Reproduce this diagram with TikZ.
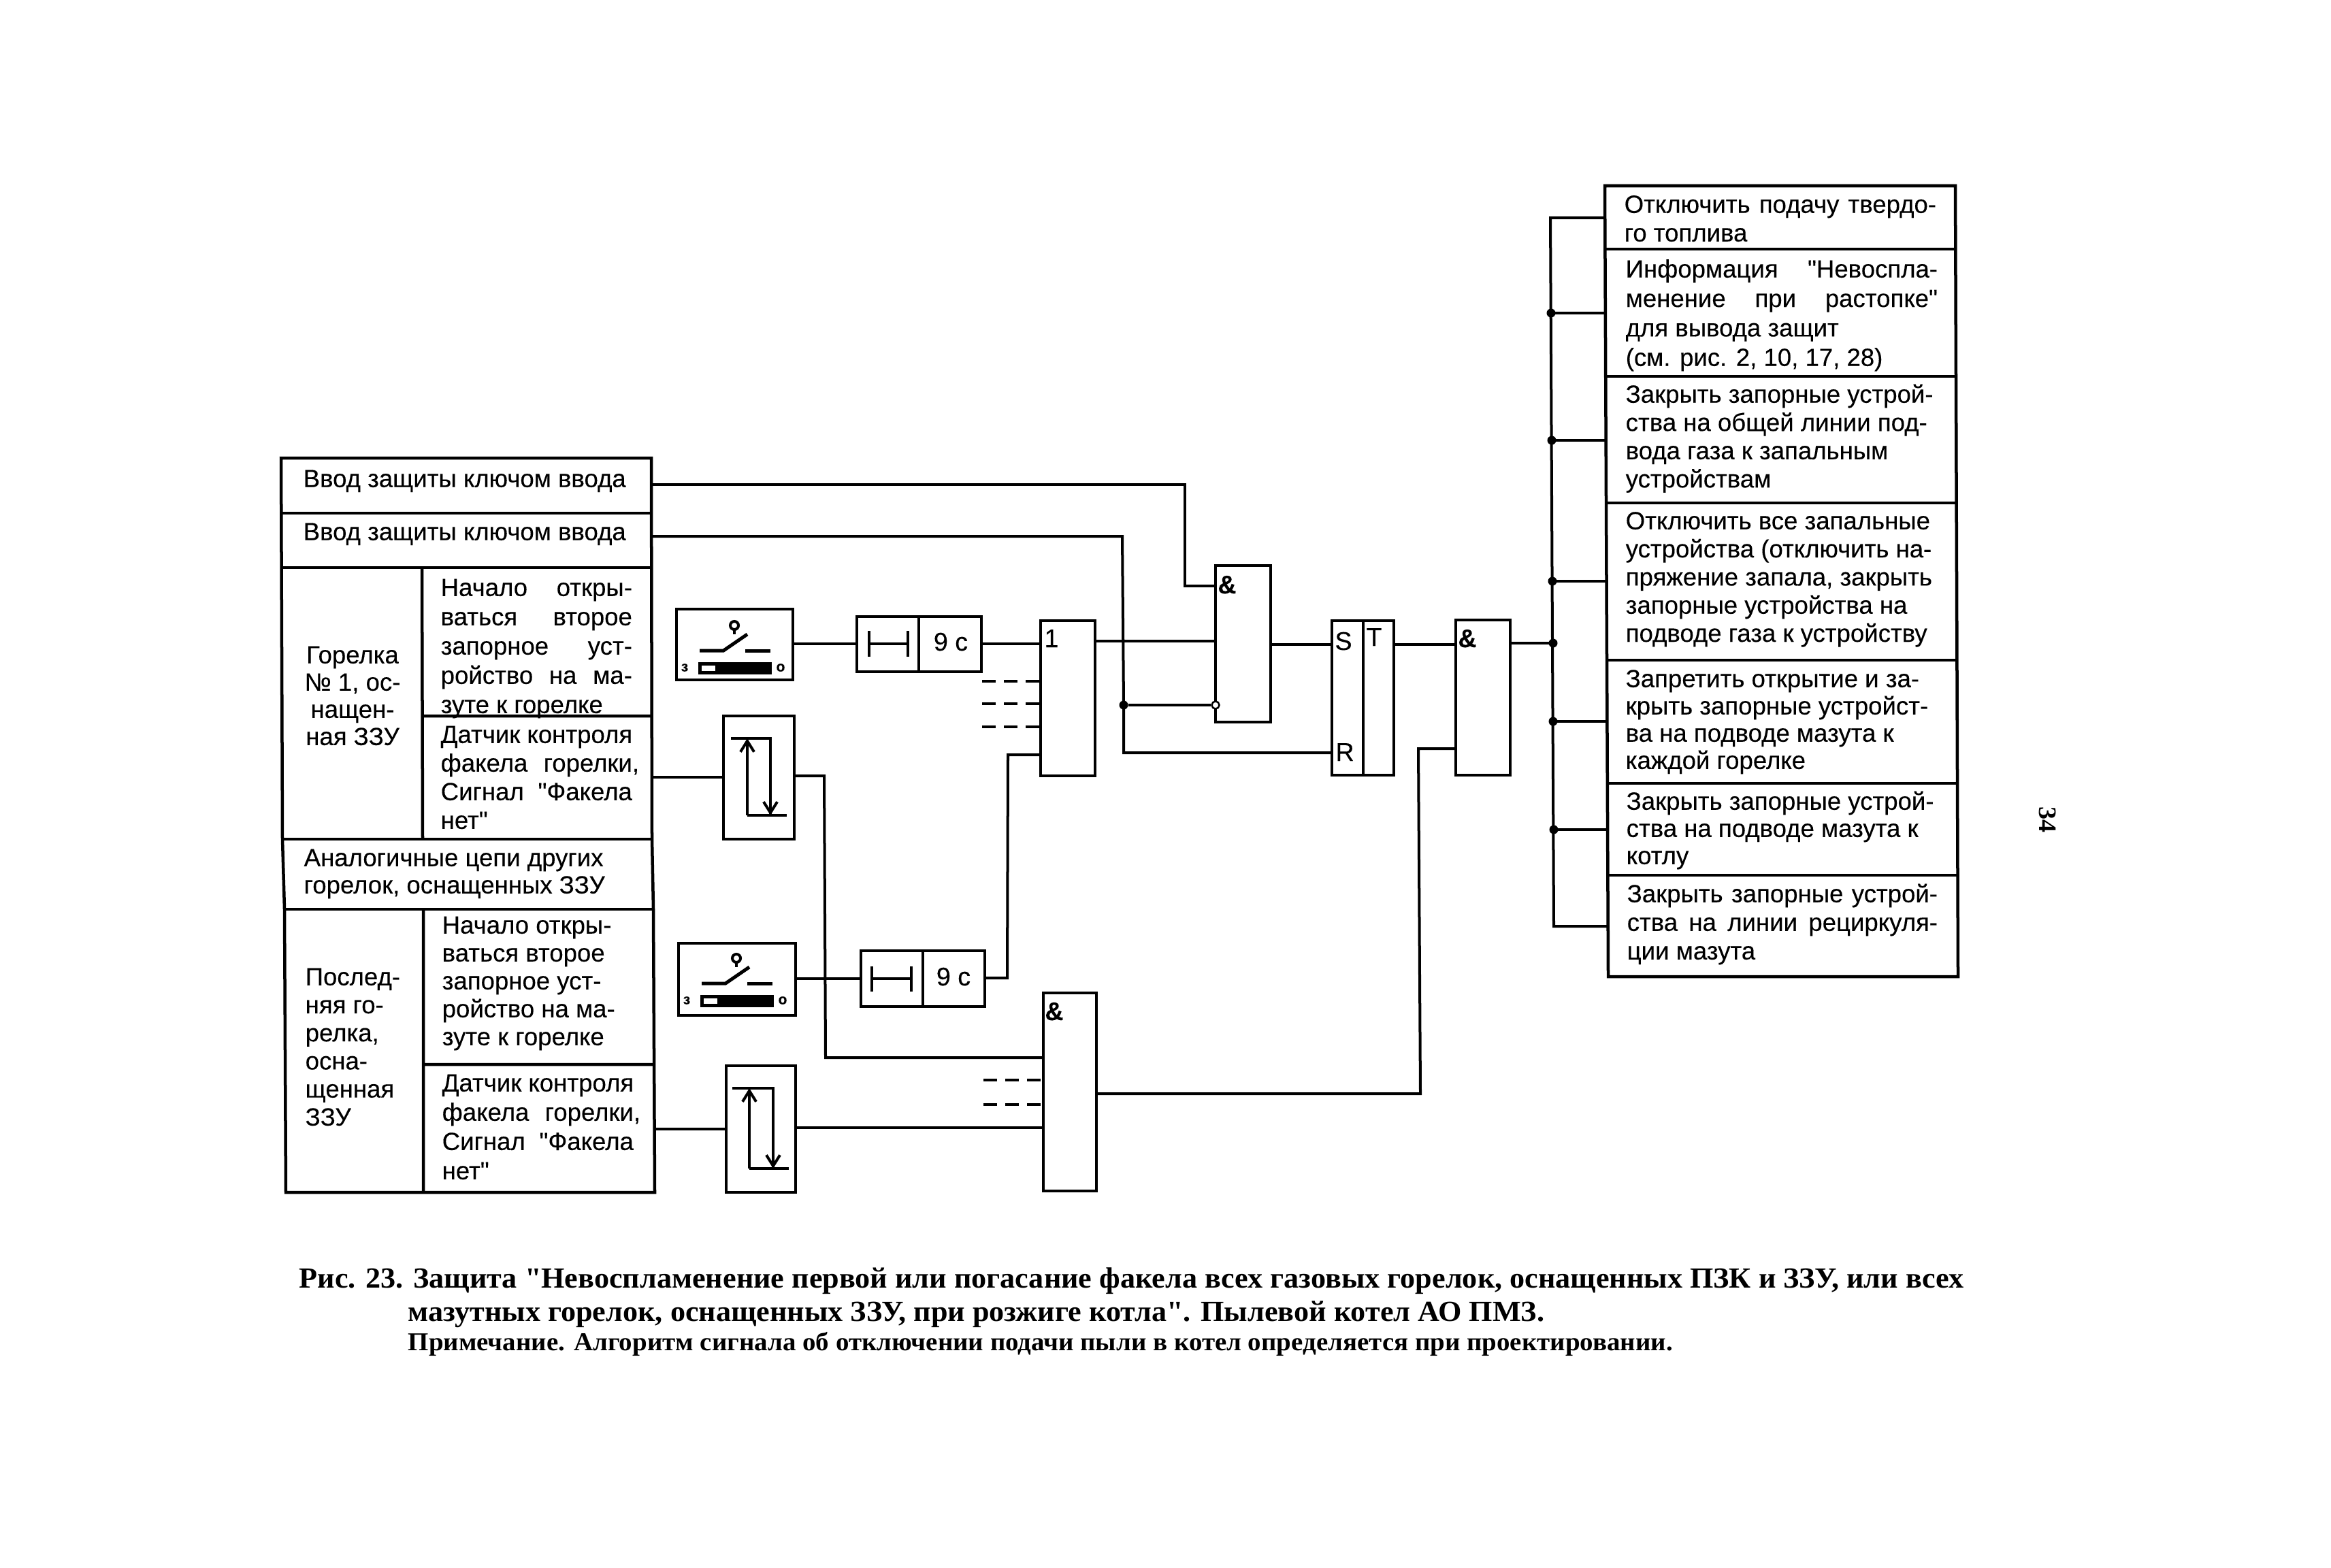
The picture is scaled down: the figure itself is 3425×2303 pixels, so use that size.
\documentclass[tikz,border=0pt]{standalone}
\usepackage{fontspec}
\newfontfamily\sansf[FakeBold=0.2]{Liberation Sans}
\newfontfamily\capfont[FakeStretch=1.03]{Liberation Serif}
\usetikzlibrary{arrows.meta,calc}
\newcommand\cellfont[1]{\sansf\fontsize{10.4pt}{\fpeval{#1*0.28453}pt}\selectfont}
\newcommand\firstln{\rule{0pt}{8pt}}
\newcommand\jl[2]{\makebox[#1cm][s]{#2}}
% block from corners: name x1 y1 x2 y2
\newcommand\blk[6][]{\node[blk,#1,anchor=north west,minimum width=\fpeval{(#5-#3)/100}cm,minimum height=\fpeval{(#6-#4)/100}cm] (#2) at (#3,#4) {};}
% text cell: name x baseline spacing lines
\newcommand\tcell[6][left]{\node[anchor=north west,inner sep=0pt,align=#1,font=\cellfont{#5}] (#2) at (#3,\fpeval{#4-28.1}) {\firstln #6};}
\newcommand\lab[4]{\node[anchor=base,inner sep=0pt,font=\sansf\fontsize{10.7pt}{12pt}\selectfont] (#1) at (#2,#3) {#4};}
\newcommand\senssym[6]{%
  \draw[sym] (#1,#5) -- (#3,#5) -- (#3,#6);
  \draw[sym] (#2,#6) -- (#4,#6);
  \draw[sym,-{Straight Barb[length=0.16cm,width=0.2cm,line width=0.04cm]}] (#2,#6) -- (#2,#5);
  \draw[sym,-{Straight Barb[length=0.16cm,width=0.2cm,line width=0.04cm]}] (#3,#5) -- (#3,#6);
}
\tikzset{
  blk/.style={draw=black,line width=0.045cm,fill=white,inner sep=0pt,outer sep=0pt},
  grid/.style={draw=black,line width=0.045cm,line join=miter},
  wire/.style={draw=black,line width=0.04cm},
  dashw/.style={draw=black,line width=0.04cm,dash pattern=on 0.2cm off 0.12cm},
  sym/.style={draw=black,line width=0.04cm},
  dot/.style={circle,fill=black,inner sep=0pt,minimum size=0.13cm},
  odot/.style={circle,draw=black,fill=white,line width=0.025cm,inner sep=0pt,minimum size=0.11cm},
  swsym/.pic={
    \draw[sym] (1079,919) circle (0.06cm);
    \draw[sym] (1079,925) -- (1079,932);
    \draw[sym,line width=0.05cm] (1028,956) -- (1063,956) -- (1098,932);
    \draw[sym,line width=0.05cm] (1095,956) -- (1132,956);
    \draw[sym,fill=black] (1028,975) rectangle (1132,989);
    \draw[sym,line width=0.025cm,fill=white] (1030,977) rectangle (1052,987);
    \node[inner sep=0pt,font=\sffamily\bfseries\fontsize{6pt}{6pt}\selectfont] at (1006,981) {\sansf з};
    \node[inner sep=0pt,font=\sffamily\bfseries\fontsize{6pt}{6pt}\selectfont] at (1147,981) {\sansf о};
  },
}
\begin{document}
\begin{tikzpicture}[x=0.01cm,y=-0.01cm]
\path[use as bounding box,fill=white] (0,0) rectangle (3425,2303);
% left table: cells are named, the ruled grid follows the page's slight skew
\blk[draw=none]{k1}{413}{673}{957}{754}
\blk[draw=none]{k2}{414}{754}{957}{834}
\blk[draw=none]{bA}{414}{834}{620}{1233}
\blk[draw=none]{bAa}{620}{834}{958}{1052}
\blk[draw=none]{bAb}{620}{1052}{959}{1233}
\blk[draw=none]{an}{416}{1233}{959}{1336}
\blk[draw=none]{bB}{419}{1336}{622}{1752}
\blk[draw=none]{bBa}{622}{1336}{960}{1564}
\blk[draw=none]{bBb}{622}{1564}{961}{1752}
\draw[grid] (413,673) -- (957,673) -- (958,1233) -- (960,1336) -- (962,1752) -- (420,1752) -- (418,1336) -- (415,1233) -- cycle;
\draw[grid] (413.5,754) -- (957,754) (414,834) -- (957.5,834) (415,1233) -- (958,1233) (418,1336) -- (960,1336);
\draw[grid] (620,834) -- (621,1233) (622,1336) -- (622,1752) (620,1052) -- (958,1052) (622,1564) -- (961,1564);
\tcell{tk1}{445}{715}{42}{Ввод защиты ключом ввода}
\tcell{tk2}{445}{793}{42}{Ввод защиты ключом ввода}
\node[anchor=north,inner sep=0pt,align=center,font=\cellfont{40}] (tbA) at (518,\fpeval{974-28.1}) {\firstln Горелка\\№ 1, ос-\\нащен-\\ная ЗЗУ};
\tcell{tbAa}{647}{875}{43}{\jl{2.81}{Начало откры-}\\\jl{2.81}{ваться второе}\\\jl{2.81}{запорное уст-}\\\jl{2.81}{ройство на ма-}\\зуте к горелке}
\tcell{tbAb}{647}{1091}{42}{Датчик контроля\\\jl{2.81}{факела горелки\rlap{,}}\\\jl{2.81}{Сигнал "Факела}\\нет"}
\tcell{tan}{446}{1272}{40}{Аналогичные цепи других\\горелок, оснащенных ЗЗУ}
\tcell{tbB}{448}{1447}{41.2}{Послед-\\няя го-\\релка,\\осна-\\щенная\\ЗЗУ}
\tcell{tbBa}{649}{1371}{41}{Начало откры-\\ваться второе\\запорное уст-\\ройство на ма-\\зуте к горелке}
\tcell{tbBb}{649}{1603}{43}{Датчик контроля\\\jl{2.81}{факела горелки\rlap{,}}\\\jl{2.81}{Сигнал "Факела}\\нет"}
% right table
\blk[draw=none]{r1}{2358}{273}{2873}{366}
\blk[draw=none]{r2}{2358}{366}{2873}{553}
\blk[draw=none]{r3}{2358}{553}{2873}{739}
\blk[draw=none]{r4}{2359}{739}{2874}{970}
\blk[draw=none]{r5}{2360}{970}{2875}{1151}
\blk[draw=none]{r6}{2361}{1151}{2876}{1286}
\blk[draw=none]{r7}{2362}{1286}{2877}{1435}
\draw[grid] (2358,273) -- (2873,273) -- (2877,1435) -- (2363,1435) -- cycle;
\draw[grid] (2358,366) -- (2874,366) (2359,553) -- (2874,553) (2359.5,739) -- (2875,739) (2361,970) -- (2875.5,970) (2361.5,1151) -- (2876,1151) (2362,1286) -- (2876.5,1286);
\tcell{tr1}{2386}{312}{42}{\jl{4.58}{Отключить подачу твердо-}\\го топлива}
\tcell{tr2}{2388}{407}{43.3}{\jl{4.58}{Информация "Невоспла-}\\\jl{4.58}{менение при растопке"}\\для вывода защит\\(см. рис. 2, 10, 17, 28)}
\tcell{tr3}{2388}{591}{41.5}{Закрыть запорные устрой-\\ства на общей линии под-\\вода газа к запальным\\устройствам}
\tcell{tr4}{2388}{777}{41.3}{Отключить все запальные\\устройства (отключить на-\\пряжение запала, закрыть\\запорные устройства на\\подводе газа к устройству}
\tcell{tr5}{2388}{1009}{40}{Запретить открытие и за-\\крыть запорные устройст-\\ва на подводе мазута к\\каждой горелке}
\tcell{tr6}{2389}{1189}{40}{Закрыть запорные устрой-\\ства на подводе мазута к\\котлу}
\tcell{tr7}{2390}{1325}{42}{\jl{4.56}{Закрыть запорные устрой-}\\\jl{4.56}{ства на линии рециркуля-}\\ции мазута}
% switches and timers
\blk{sw1}{994}{895}{1165}{999}
\pic at (0,0) {swsym};
\blk{sw2}{997}{1386}{1169}{1492}
\pic at (3,489) {swsym};
\blk{tm1}{1259}{906}{1350}{987}
\blk{tm1b}{1350}{906}{1442}{987}
\blk{tm2}{1265}{1397}{1356}{1479}
\blk{tm2b}{1356}{1397}{1447}{1479}
\draw[sym] (1277,927) -- (1277,965) (1277,946) -- (1334,946) (1334,927) -- (1334,965);
\draw[sym] (1281,1420) -- (1281,1457) (1281,1438) -- (1339,1438) (1339,1420) -- (1339,1457);
\lab{t9a}{1397}{956}{9 с}
\lab{t9b}{1401}{1448}{9 с}
% sensors
\blk{se1}{1063}{1052}{1167}{1233}
\blk{se2}{1067}{1566}{1169}{1752}
\senssym{1074}{1098}{1132}{1156}{1085}{1198}
\senssym{1076}{1101}{1136}{1159}{1599}{1717}
% gates
\blk{orA}{1529}{912}{1609}{1140}
\blk{anA}{1786}{831}{1867}{1061}
\blk{srS}{1957}{912}{2003}{1139}
\blk{srT}{2003}{912}{2048}{1139}
\blk{anB}{2139}{911}{2219}{1139}
\blk{anC}{1533}{1459}{1611}{1750}
\lab{l1}{1545}{951}{1}
\lab{l2}{1803}{872}{\bfseries\&}
\lab{l3}{2156}{951}{\bfseries\&}
\lab{l4}{1549}{1499}{\bfseries\&}
\lab{l5}{1974}{955}{S}
\lab{l6}{2019}{949}{T}
\lab{l7}{1976}{1118}{R}
% connectors
\coordinate (jA) at (1651,1036);
\node[dot] (dA) at (jA) {};
\draw[wire] (k1.east |- 0,712) -- (1741,712) -- (1741,861) -- (anA.west |- 0,861);
\draw[wire] (k2.east |- 0,788) -- (1649,788) -- (dA.center) -- (1651,1106) -- (srS.west |- 0,1106);
\draw[wire] (sw1.east |- 0,946) -- (tm1.west |- 0,946);
\draw[wire] (tm1b.east |- 0,946) -- (orA.west |- 0,946);
\draw[wire] (orA.east |- 0,942) -- (anA.west |- 0,942);
\draw[wire] (anA.east |- 0,947) -- (srS.west |- 0,947);
\draw[wire] (srT.east |- 0,947) -- (anB.west |- 0,947);
\draw[dashw] (1443,1001) -- (orA.west |- 0,1001);
\draw[dashw] (1443,1034) -- (orA.west |- 0,1034);
\draw[dashw] (1443,1068) -- (orA.west |- 0,1068);
\draw[wire] (bAb.east |- 0,1142) -- (se1.west |- 0,1142);
\draw[wire] (se1.east |- 0,1140) -- (1211,1140) -- (1213,1554) -- (anC.west |- 0,1554);
\draw[wire] (sw2.east |- 0,1438) -- (tm2.west |- 0,1438);
\draw[wire] (tm2b.east |- 0,1437) -- (1480,1437) -- (1481,1109) -- (orA.west |- 0,1109);
\draw[wire] (bBb.east |- 0,1659) -- (se2.west |- 0,1659);
\draw[wire] (se2.east |- 0,1657) -- (anC.west |- 0,1657);
\draw[dashw] (1445,1587) -- (anC.west |- 0,1587);
\draw[dashw] (1445,1623) -- (anC.west |- 0,1623);
\draw[wire] (anC.east |- 0,1607) -- (2087,1607) -- (2084,1100) -- (anB.west |- 0,1100);
\node[odot] (oA) at (1786,1036) {};
\draw[wire] (dA) -- (oA);
% output bus
\coordinate (busT) at (2278,320);
\coordinate (busB) at (2283,1361);
\draw[wire] (r1.west |- busT) -- (busT) -- (busB) -- (r7.west |- busB);
\node[dot] (b2) at (2279,460) {};
\node[dot] (b3) at (2280,647) {};
\node[dot] (b4) at (2281,854) {};
\node[dot] (b0) at (2282,945) {};
\node[dot] (b5) at (2282,1060) {};
\node[dot] (b6) at (2283,1219) {};
\draw[wire] (b2.center) -- (r2.west |- b2);
\draw[wire] (b3.center) -- (r3.west |- b3);
\draw[wire] (b4.center) -- (r4.west |- b4);
\draw[wire] (b5.center) -- (r5.west |- b5);
\draw[wire] (b6.center) -- (r6.west |- b6);
\draw[wire] (anB.east |- b0) -- (b0.center);
% caption
\node[anchor=base west,inner sep=0pt,font=\capfont\bfseries\fontsize{12.2pt}{14pt}\selectfont] (cap1) at (439,1892) {Рис. 23. Защита "Невоспламенение первой или погасание факела всех газовых горелок, оснащенных ПЗК и ЗЗУ, или всех};
\node[anchor=base west,inner sep=0pt,font=\capfont\bfseries\fontsize{12.2pt}{14pt}\selectfont] (cap2) at (599,1941) {мазутных горелок, оснащенных ЗЗУ, при розжиге котла". Пылевой котел АО ПМЗ.};
\node[anchor=base west,inner sep=0pt,font=\capfont\bfseries\fontsize{10.75pt}{12pt}\selectfont] (cap3) at (599,1984) {Примечание. Алгоритм сигнала об отключении подачи пыли в котел определяется при проектировании.};
\node[rotate=-90,inner sep=0pt,font=\capfont\bfseries\fontsize{10.5pt}{12pt}\selectfont] (pg) at (3008,1204) {34};
\end{tikzpicture}
\end{document}
